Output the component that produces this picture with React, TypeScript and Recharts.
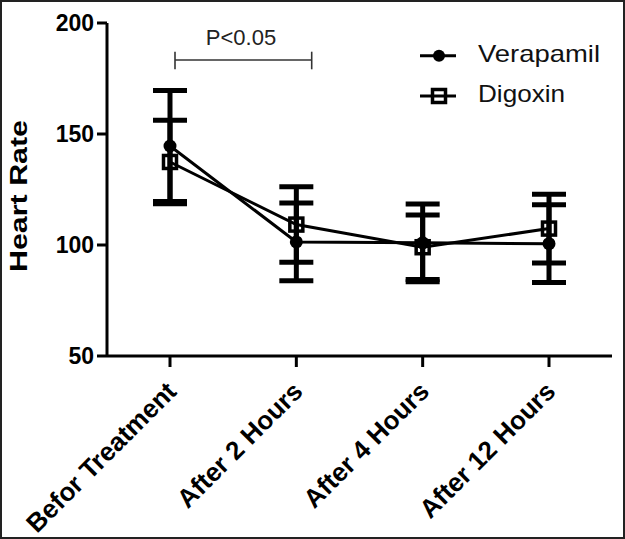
import { LineChart, Line, XAxis, YAxis, ErrorBar, Legend } from "recharts";

// values (mean and SD, beats/min)
const timePoints = ["Befor Treatment", "After 2 Hours", "After 4 Hours", "After 12 Hours"];
const verapamil = [144.6, 101.4, 101, 100.6];
const verapamilSd = [25, 17.5, 17.5, 17.5];
const digoxin = [137.4, 109.2, 99, 107.4];
const digoxinSd = [18.8, 17, 14.5, 15.5];
const yTicks = [50, 100, 150, 200];

const data = timePoints.map((t, i) => ({
  time: t,
  verapamil: verapamil[i],
  verapamilSd: verapamilSd[i],
  digoxin: digoxin[i],
  digoxinSd: digoxinSd[i],
}));

const FONT = "'Liberation Sans', Arial, Helvetica, sans-serif";

const SquareDot = (props: any) => {
  const { cx, cy, index } = props;
  if (cx == null || cy == null) return <g key={`sq-${index}`} />;
  return (
    <rect
      key={`sq-${index}`}
      x={cx - 6.5}
      y={cy - 6.5}
      width={13}
      height={13}
      fill="none"
      stroke="#000"
      strokeWidth={3.5}
    />
  );
};

const XTick = ({ x, y, payload }: any) => (
  <g transform={`translate(${x + 8},${y + 24})`}>
    <text
      x={0}
      y={0}
      textAnchor="end"
      transform="rotate(-45)"
      fill="#000"
      fontSize={26}
      fontWeight="bold"
      fontFamily={FONT}
    >
      {payload.value}
    </text>
  </g>
);

const YLabel = () => (
  <text
    x={27}
    y={196}
    transform="rotate(-90, 27, 196)"
    textAnchor="middle"
    fill="#000"
    fontSize={24}
    fontWeight="bold"
    fontFamily={FONT}
    textLength={152}
    lengthAdjust="spacingAndGlyphs"
  >
    Heart Rate
  </text>
);

const renderLegend = () => (
  <svg width={210} height={80} style={{ display: "block" }}>
    <line x1={10} y1={20.7} x2={46} y2={20.7} stroke="#000" strokeWidth={3} />
    <circle cx={29} cy={20.7} r={6} fill="#000" />
    <text x={68} y={27.3} fontSize={24} fontFamily={FONT} fill="#111" textLength={122} lengthAdjust="spacingAndGlyphs">
      Verapamil
    </text>
    <line x1={10} y1={61} x2={46} y2={61} stroke="#000" strokeWidth={3} />
    <rect x={22.5} y={54.5} width={13} height={13} fill="none" stroke="#000" strokeWidth={3.5} />
    <text x={68} y={66.7} fontSize={24} fontFamily={FONT} fill="#111" textLength={87} lengthAdjust="spacingAndGlyphs">
      Digoxin
    </text>
  </svg>
);

export default function App() {
  return (
    <div style={{ position: "relative", width: 625, height: 539, background: "#fff" }}>
      <style>{"body{margin:0}"}</style>
      <LineChart
        width={625}
        height={539}
        data={data}
        margin={{ top: 23, right: 13, bottom: 0, left: 0 }}
      >
        <XAxis
          dataKey="time"
          height={183}
          padding={{ left: 63, right: 63 }}
          tick={<XTick />}
          tickSize={11}
          interval={0}
          axisLine={{ stroke: "#000", strokeWidth: 3 }}
          tickLine={{ stroke: "#000", strokeWidth: 3 }}
        />
        <YAxis
          width={107}
          domain={[50, 200]}
          ticks={yTicks}
          tickSize={10}
          tickMargin={3}
          axisLine={{ stroke: "#000", strokeWidth: 3 }}
          tickLine={{ stroke: "#000", strokeWidth: 3 }}
          tick={{ fill: "#000", fontSize: 23, fontWeight: "bold", fontFamily: FONT }}
          label={YLabel}
        />
        <Legend
          content={renderLegend}
          layout="horizontal"
          verticalAlign="middle"
          align="center"
          wrapperStyle={{ left: 410, top: 35, width: 210, height: 80 }}
        />
        <Line
          dataKey="verapamil"
          name="Verapamil"
          stroke="#000"
          strokeWidth={3}
          dot={{ r: 6.5, fill: "#000", stroke: "#000", strokeWidth: 0 }}
          isAnimationActive={false}
        >
          <ErrorBar dataKey="verapamilSd" direction="y" width={17} strokeWidth={5} stroke="#000" />
        </Line>
        <Line
          dataKey="digoxin"
          name="Digoxin"
          stroke="#000"
          strokeWidth={3}
          dot={SquareDot}
          isAnimationActive={false}
        >
          <ErrorBar dataKey="digoxinSd" direction="y" width={17} strokeWidth={5} stroke="#000" />
        </Line>
      </LineChart>
      <svg
        width={625}
        height={539}
        style={{ position: "absolute", left: 0, top: 0, pointerEvents: "none" }}
      >
        <text x={241} y={45} textAnchor="middle" fontSize={22} fontFamily={FONT} fill="#222">
          P&lt;0.05
        </text>
        <line x1={175} y1={60} x2={311.7} y2={60} stroke="#333" strokeWidth={1.6} />
        <line x1={175} y1={51.7} x2={175} y2={69.3} stroke="#333" strokeWidth={1.6} />
        <line x1={311.7} y1={51.7} x2={311.7} y2={69.3} stroke="#333" strokeWidth={1.6} />
      </svg>
      <div
        style={{
          position: "absolute",
          inset: 0,
          border: "2px solid #222",
          pointerEvents: "none",
        }}
      />
    </div>
  );
}
